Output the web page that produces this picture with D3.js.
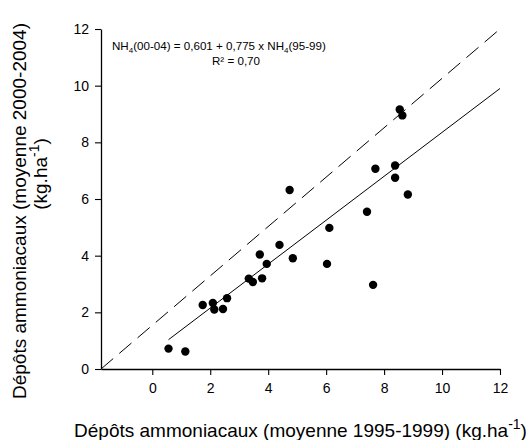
<!DOCTYPE html>
<html>
<head>
<meta charset="utf-8">
<script src="https://cdn.jsdelivr.net/npm/d3@7"></script>
<style>
  body { margin: 0; background: #fff; }
  svg { font-family: 'Liberation Sans', Arial, sans-serif; }
</style>
</head>
<body>
<svg id="chart" width="526" height="440"></svg>
<script>
// 1995-1999 vs 2000-2004 ammonium deposition (kg/ha)
const depots9599 = [0.56, 1.14, 1.74, 2.09, 2.14, 2.44, 2.58, 3.33, 3.47, 3.71, 3.79, 3.95, 4.39, 4.85,
    6.11, 6.03, 7.62, 4.74, 8.54, 8.63, 7.70, 8.38, 8.38, 8.82, 7.41];
const depots0004 = [0.72, 0.62, 2.26, 2.33, 2.10, 2.12, 2.50, 3.19, 3.07, 4.04, 3.20, 3.71, 4.38, 3.91,
    4.98, 3.71, 2.97, 6.32, 9.16, 8.95, 7.07, 7.18, 6.75, 6.16, 5.55];

const xTicks = [0, 2, 4, 6, 8, 10, 12];
const yTicks = [0, 2, 4, 6, 8, 10, 12];
const xDomain = [-1.77, 12];
const yDomain = [0, 12];

// regression y = a + b x, drawn from the smallest x to the axis end
const intercept = 0.601;
const slope = 0.775;
const fitRange = [0.56, 12];

// reference (dashed) line, corner to corner
const refLine = [[-1.77, 0], [12, 12]];

const svg = d3.select('#chart');
const margin = {top: 29, right: 26, bottom: 71, left: 101};
const width = 526, height = 440;

const x = d3.scaleLinear()
    .domain(xDomain)
    .range([margin.left, width - margin.right]);
const y = d3.scaleLinear()
    .domain(yDomain)
    .range([height - margin.bottom, margin.top]);

// axes
const xAxis = svg.append('g')
    .attr('transform', `translate(0, ${height - margin.bottom})`)
    .call(d3.axisBottom(x).tickValues(xTicks).tickSize(6).tickPadding(8).tickSizeOuter(0));
const yAxis = svg.append('g')
    .attr('transform', `translate(${margin.left}, 0)`)
    .call(d3.axisLeft(y).tickValues(yTicks).tickSize(6).tickPadding(6).tickSizeOuter(0));

[xAxis, yAxis].forEach(a => {
    a.select('.domain').attr('stroke', '#000').attr('stroke-width', 1.3);
    a.selectAll('.tick line').attr('stroke', '#000').attr('stroke-width', 1.1);
    a.selectAll('.tick text')
        .attr('fill', '#000')
        .style('font-family', "'Liberation Sans', Arial, sans-serif")
        .style('font-size', '14px');
});

// dashed line
const line = d3.line()
    .x(d => x(d[0]))
    .y(d => y(d[1]));

svg.append('path')
    .datum(refLine)
    .attr('fill', 'none')
    .attr('stroke', '#000')
    .attr('stroke-width', 1)
    .attr('stroke-dasharray', '16,8')
    .attr('d', line);

// fit line
svg.append('path')
    .datum(fitRange.map(v => [v, intercept + slope * v]))
    .attr('fill', 'none')
    .attr('stroke', '#000')
    .attr('stroke-width', 1)
    .attr('d', line);

// points
svg.append('g')
    .selectAll('circle')
    .data(depots9599.map((v, i) => [v, depots0004[i]]))
    .join('circle')
    .attr('cx', d => x(d[0]))
    .attr('cy', d => y(d[1]))
    .attr('r', 4.2)
    .attr('fill', '#000');

// equation
const eq = svg.append('text')
    .attr('x', 112)
    .attr('y', 50)
    .style('font-size', '11.6px');
eq.append('tspan').text('NH');
eq.append('tspan').attr('dy', 3).style('font-size', '8px').text('4');
eq.append('tspan').attr('dy', -3).text('(00-04) = 0,601 + 0,775 x NH');
eq.append('tspan').attr('dy', 3).style('font-size', '8px').text('4');
eq.append('tspan').attr('dy', -3).text('(95-99)');

svg.append('text')
    .attr('x', 236)
    .attr('y', 65)
    .attr('text-anchor', 'middle')
    .style('font-size', '11.6px')
    .text('R² = 0,70');

// x label
const xl = svg.append('text')
    .attr('x', (x.range()[0] + x.range()[1]) / 2)
    .attr('y', 437)
    .attr('text-anchor', 'middle')
    .style('font-size', '19px');
xl.append('tspan').text('Dépôts ammoniacaux (moyenne 1995-1999) (kg.ha');
xl.append('tspan').attr('dy', -8).style('font-size', '14px').text('-1');
xl.append('tspan').attr('dy', 8).text(')');

// y label, two lines
const yl = svg.append('g')
    .attr('transform', 'translate(26, 0) rotate(-90)');
yl.append('text')
    .attr('x', -211)
    .attr('text-anchor', 'middle')
    .style('font-size', '19px')
    .text('Dépôts ammoniacaux (moyenne 2000-2004)');
const yl2 = yl.append('text')
    .attr('x', -174)
    .attr('y', 21)
    .attr('text-anchor', 'middle')
    .style('font-size', '19px');
yl2.append('tspan').text('(kg.ha');
yl2.append('tspan').attr('dy', -8).style('font-size', '14px').text('-1');
yl2.append('tspan').attr('dy', 8).text(')');
</script>
</body>
</html>
